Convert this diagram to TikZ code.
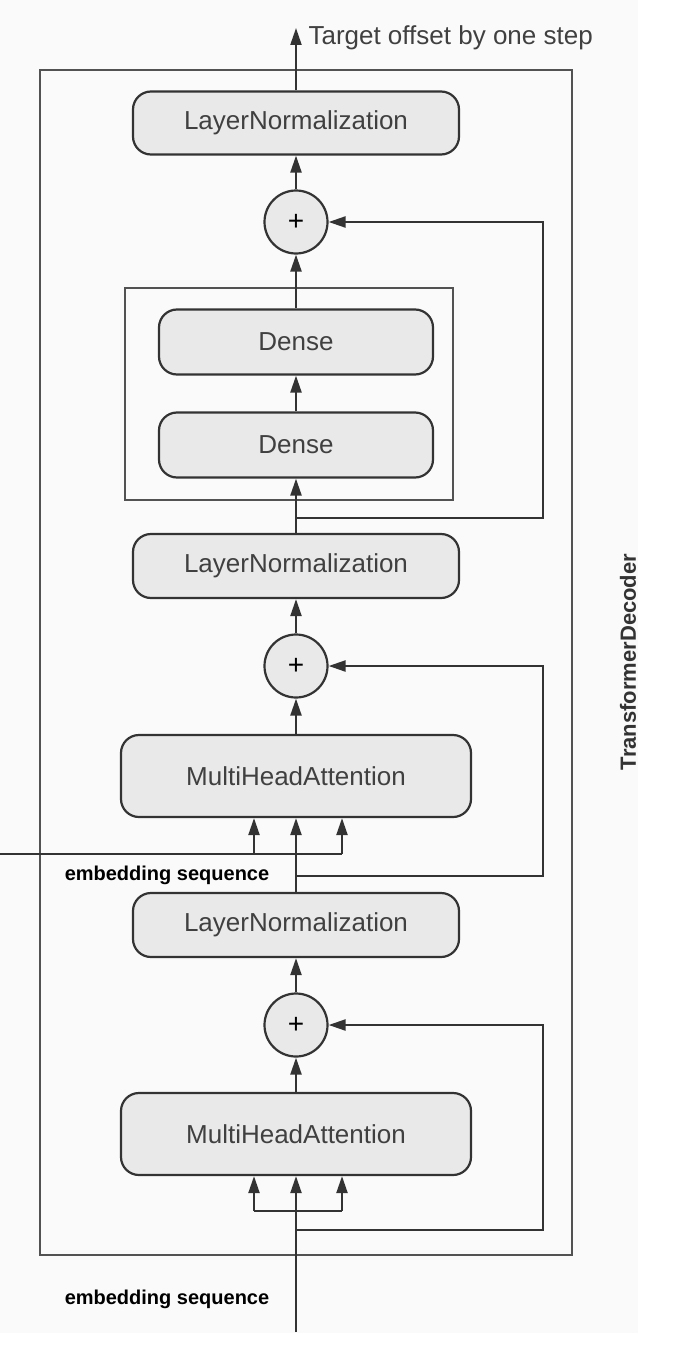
\documentclass[tikz,border=0pt]{standalone}
\usepackage{fontspec}
\setmainfont{Liberation Sans}
\usepackage{tikz}
\usetikzlibrary{arrows.meta}
\usepackage{xcolor}
\definecolor{boxfill}{HTML}{E8E9E8}
\definecolor{edge}{HTML}{333333}
\definecolor{labeltext}{HTML}{404040}

\tikzset{
  layerbox/.style={rectangle, rounded corners=18pt, draw=edge, line width=2.2pt, fill=boxfill,
    text=labeltext, font=\fontsize{26}{28}\selectfont},
  addnode/.style={circle, draw=edge, line width=2.2pt, fill=boxfill, minimum size=63pt,
    inner sep=0pt, font=\fontsize{28}{30}\selectfont},
  flow/.style={line width=2.2pt, draw=edge},
  flowarrow/.style={flow, -{Triangle[length=17pt,width=11pt]}},
  seqlabel/.style={font=\bfseries\fontsize{20}{22}\selectfont}
}

\begin{document}
\begin{tikzpicture}[x=1pt, y=-1pt]
          % Variables
          \def \midx   {296}
          \def \skipx  {543}
          \def \lnw    {326}
          \def \mhaw   {350}

          \useasboundingbox (0,0) rectangle (678,1370);
          \fill[black!2] (0,0) rectangle (638,1333);

          % Outer frame
          \node[rectangle, draw=edge!85, line width=2.2pt, minimum width=532pt, minimum height=1185pt] (decoder) at (306,662.5) {};
          \node[rotate=90, font=\bfseries\fontsize{22}{24}\selectfont, text=edge] (decname) at (628,662) {TransformerDecoder};

          % Feed forward block
          \node[rectangle, draw=edge!85, line width=2.2pt, minimum width=328pt, minimum height=212pt] (ffn) at (289,394) {};
          \node[layerbox, minimum width=274pt, minimum height=65pt] (dense2) at (\midx,342) {Dense};
          \node[layerbox, minimum width=274pt, minimum height=65pt] (dense1) at (\midx,445) {Dense};

          % Layers
          \node[layerbox, minimum width=\lnw pt, minimum height=63pt] (ln3) at (\midx,123) {LayerNormalization};
          \node[addnode] (add3) at (\midx,222) {+};
          \node[layerbox, minimum width=\lnw pt, minimum height=64pt] (ln2) at (\midx,566) {LayerNormalization};
          \node[addnode] (add2) at (\midx,666) {+};
          \node[layerbox, minimum width=\mhaw pt, minimum height=82pt] (mha2) at (\midx,776) {MultiHeadAttention};
          \node[layerbox, minimum width=\lnw pt, minimum height=64pt] (ln1) at (\midx,925) {LayerNormalization};
          \node[addnode] (add1) at (\midx,1025) {+};
          \node[layerbox, minimum width=\mhaw pt, minimum height=82pt] (mha1) at (\midx,1134) {MultiHeadAttention};

          % Free ends
          \coordinate (target) at (\midx,28);
          \coordinate (enc) at (0,854);
          \coordinate (kv2l) at (254,854);
          \coordinate (kv2r) at (342,854);
          \coordinate (res2) at (\midx,876);
          \coordinate (res3) at (\midx,518);
          \coordinate (input) at (\midx,1332);
          \coordinate (kv1l) at (254,1211);
          \coordinate (kv1r) at (342,1211);
          \coordinate (res1) at (\midx,1230);

          % Texts
          \node[anchor=west, text=labeltext, font=\fontsize{26}{28}\selectfont] (targetlabel) at (305,38) {Target offset by one step};
          \node[seqlabel] (seq2) at (167,875) {embedding sequence};
          \node[seqlabel] (seq1) at (167,1299) {embedding sequence};

          % Main path
          \draw[flowarrow] (ln3) -- (target);
          \draw[flowarrow] (add3) -- (ln3);
          \draw[flowarrow] (dense2) -- (add3);
          \draw[flowarrow] (dense1) -- (dense2);
          \draw[flowarrow] (ln2) -- (dense1);
          \draw[flowarrow] (add2) -- (ln2);
          \draw[flowarrow] (mha2) -- (add2);
          \draw[flowarrow] (ln1) -- (mha2);
          \draw[flowarrow] (add1) -- (ln1);
          \draw[flowarrow] (mha1) -- (add1);
          \draw[flowarrow] (input) -- (mha1);

          % Attention inputs
          \draw[flow] (enc) -- (kv2r);
          \draw[flowarrow] (kv2l) -- (kv2l |- mha2.south);
          \draw[flowarrow] (kv2r) -- (kv2r |- mha2.south);
          \draw[flow] (kv1l) -- (kv1r);
          \draw[flowarrow] (kv1l) -- (kv1l |- mha1.south);
          \draw[flowarrow] (kv1r) -- (kv1r |- mha1.south);

          % Residual connections
          \draw[flowarrow] (res1) -- (\skipx,1230) |- (add1.east);
          \draw[flowarrow] (res2) -- (\skipx,876) |- (add2.east);
          \draw[flowarrow] (res3) -- (\skipx,518) |- (add3.east);

        \end{tikzpicture}
\end{document}
